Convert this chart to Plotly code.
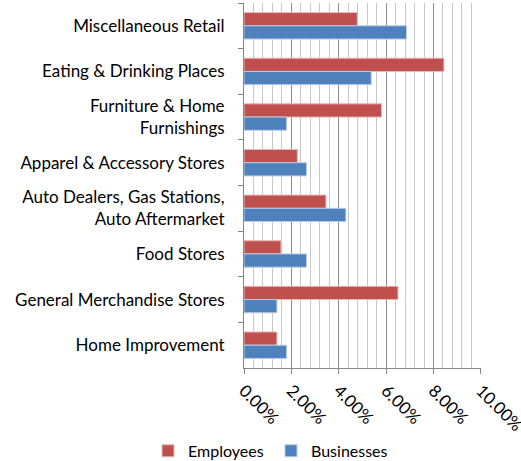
import plotly.graph_objects as go

categories = [
    "Miscellaneous Retail",
    "Eating & Drinking Places",
    "Furniture & Home<br>Furnishings",
    "Apparel & Accessory Stores",
    "Auto Dealers, Gas Stations,<br>Auto Aftermarket",
    "Food Stores",
    "General Merchandise Stores",
    "Home Improvement",
]
employees = [4.78, 8.44, 5.81, 2.25, 3.46, 1.56, 6.50, 1.39]
businesses = [6.86, 5.37, 1.80, 2.64, 4.30, 2.64, 1.39, 1.80]
x_max = 10
x_step = 2
x_minor_step = 0.4

FONT = "Lato"
fig = go.Figure()
fig.add_trace(go.Bar(
    name="Employees", y=categories, x=employees, orientation="h",
    marker=dict(color="#C0504D", line=dict(color="#E6B9B8", width=1)),
))
fig.add_trace(go.Bar(
    name="Businesses", y=categories, x=businesses, orientation="h",
    marker=dict(color="#4F81BD", line=dict(color="#B9CDE5", width=1)),
))

fig.update_layout(
    width=521, height=461,
    margin=dict(l=244, r=40, t=3, b=93, autoexpand=False),
    paper_bgcolor="white", plot_bgcolor="white",
    barmode="group", bargap=0.42, bargroupgap=0,
    font=dict(family=FONT, size=17, color="#000000"),
    showlegend=True,
    legend=dict(orientation="h", x=-0.405, xanchor="left", y=-0.227, yanchor="middle",
                font=dict(family=FONT, size=16), entrywidth=78, entrywidthmode="pixels",
                itemwidth=30, bgcolor="rgba(0,0,0,0)"),
    xaxis=dict(
        range=[0, x_max * 1.0005], tick0=0, dtick=x_step, tickformat=".2f", ticksuffix="%",
        tickangle=45, automargin=False, ticklabeloverflow="allow",
        showgrid=True, gridcolor="#8C8C8C", gridwidth=1,
        minor=dict(dtick=x_minor_step, showgrid=True, gridcolor="#C8C8C8", gridwidth=1, ticks=""),
        ticks="outside", ticklen=5, tickcolor="#868686",
        showline=True, linecolor="#868686", linewidth=1,
        zeroline=False, tickfont=dict(family=FONT, size=17),
    ),
    yaxis=dict(
        autorange="reversed", tickson="boundaries", ticks="outside", ticklen=5,
        tickcolor="#868686", showline=True, linecolor="#868686", linewidth=1,
        showgrid=False, tickfont=dict(family=FONT, size=17), ticklabelstandoff=15,
        automargin=False,
    ),
)
fig.write_html(
    "out.html",
    config={"displayModeBar": False},
    post_script="document.body.style.margin='0';document.body.style.padding='0';"
                "document.body.style.overflow='hidden';",
)
